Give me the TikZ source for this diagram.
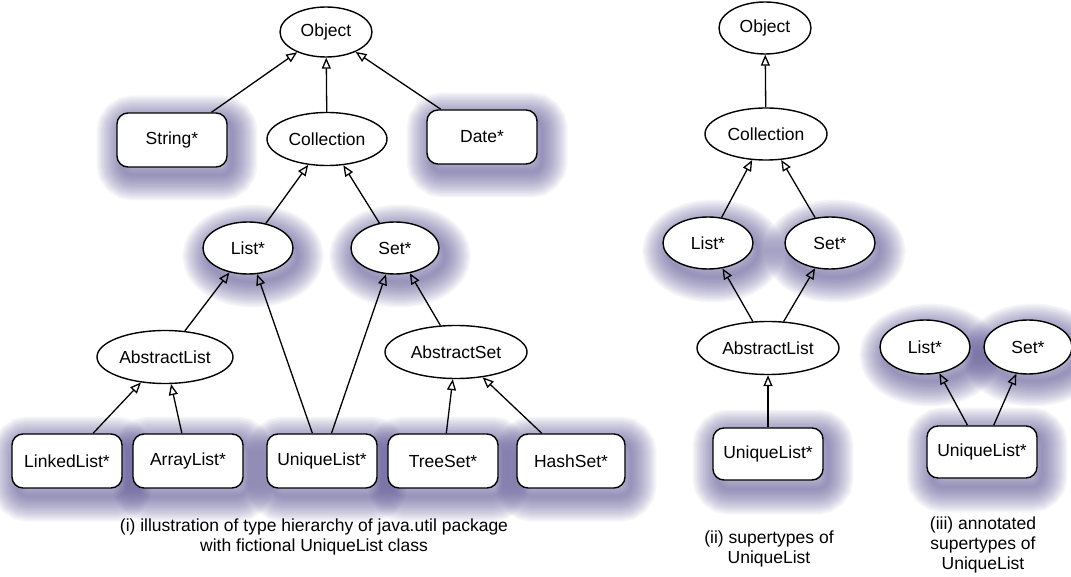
\documentclass[tikz,border=0pt]{standalone}
\usepackage{fontspec}
\setmainfont{Liberation Sans}
\usetikzlibrary{arrows.meta,shapes.geometric}
\definecolor{glowc}{RGB}{82,74,140}
\begin{document}
\begin{tikzpicture}[x=1pt,y=-1pt,
  font=\fontsize{17.5}{20}\selectfont,
  base/.style={draw=black, line width=1.4pt, fill=white, inner sep=0pt},
  box/.style={base, rectangle, rounded corners=11pt, minimum width=110pt, minimum height=54pt},
  ell/.style={base, ellipse},
  sell/.style={ell, minimum width=90pt, minimum height=52pt},
  ring/.style={preaction={draw=glowc, draw opacity=0.05, line width=#1}},
  halo/.style={fill=none, draw=glowc, draw opacity=0.05, line width=3pt,
    ring=51pt, ring=48pt, ring=45pt, ring=42pt, ring=39pt, ring=36pt,
    ring=33pt, ring=30pt, ring=27pt, ring=24pt, ring=21pt, ring=18pt,
    ring=15pt, ring=12pt, ring=9pt, ring=6pt},
  inh/.style={line width=1.3pt, -{Triangle[open, length=11pt, width=9pt]}},
  caption/.style={align=center, inner sep=0pt}
]
\useasboundingbox (0,0) rectangle (1071,577);

% positions
\coordinate (pObj)  at (326,32);
\coordinate (pStr)  at (172,140);
\coordinate (pColl) at (327,139);
\coordinate (pDate) at (482,137);
\coordinate (pList) at (248,248);
\coordinate (pSet)  at (395,248);
\coordinate (pAL)   at (165,357);
\coordinate (pAS)   at (456,352);
\coordinate (pLL)   at (67,461);
\coordinate (pArL)  at (188,461);
\coordinate (pUL)   at (322,461);
\coordinate (pTS)   at (443,461);
\coordinate (pHS)   at (571,461);

\coordinate (qObj)  at (765,28);
\coordinate (qColl) at (766,134);
\coordinate (qList) at (708,243);
\coordinate (qSet)  at (830,243);
\coordinate (qAL)   at (768,348);
\coordinate (qUL)   at (768,454);

\coordinate (rList) at (925,347);
\coordinate (rSet)  at (1028,347);
\coordinate (rUL)   at (982,452);

% soft halos behind the concrete / starred types
\foreach \c in {pStr,pDate,pLL,pArL,pUL,pTS,pHS,qUL,rUL}
  \node[box, halo, xshift=5pt, yshift=-8pt] at (\c) {};
\foreach \c in {pList,pSet,qList,qSet,rList,rSet}
  \node[sell, halo, xshift=5pt, yshift=-8pt] at (\c) {};

% (i) java.util hierarchy
\node[ell, minimum width=92pt, minimum height=50pt] (obj) at (pObj) {Object};
\node[box] (str) at (pStr) {String*};
\node[ell, minimum width=120pt, minimum height=53pt] (coll) at (pColl) {Collection};
\node[box] (date) at (pDate) {Date*};
\node[sell] (list) at (pList) {List*};
\node[sell, minimum width=88pt] (set) at (pSet) {Set*};
\node[ell, minimum width=136pt, minimum height=53pt] (al) at (pAL) {AbstractList};
\node[ell, minimum width=142pt, minimum height=53pt] (as) at (pAS) {AbstractSet};
\node[box] (ll) at (pLL) {LinkedList*};
\node[box] (arl) at (pArL) {ArrayList*};
\node[box] (ul) at (pUL) {UniqueList*};
\node[box] (ts) at (pTS) {TreeSet*};
\node[box, minimum width=108pt] (hs) at (pHS) {HashSet*};

\draw[inh] (str) -- (obj);
\draw[inh] (date) -- (obj);
\draw[inh] (coll) -- (obj);
\draw[inh] (list) -- (coll);
\draw[inh] (set) -- (coll);
\draw[inh] (al) -- (list);
\draw[inh] (ul) -- (list);
\draw[inh] (ul) -- (set);
\draw[inh] (as) -- (set);
\draw[inh] (ll) -- (al);
\draw[inh] (arl) -- (al);
\draw[inh] (ts) -- (as);
\draw[inh] (hs) -- (as);

% (ii) supertypes
\node[ell, minimum width=92pt, minimum height=52pt] (obj2) at (qObj) {Object};
\node[ell, minimum width=122pt, minimum height=52pt] (coll2) at (qColl) {Collection};
\node[sell] (list2) at (qList) {List*};
\node[sell] (set2) at (qSet) {Set*};
\node[ell, minimum width=142pt, minimum height=53pt] (al2) at (qAL) {AbstractList};
\node[box, minimum height=52pt] (ul2) at (qUL) {UniqueList*};

\draw[inh] (coll2) -- (obj2);
\draw[inh] (list2) -- (coll2);
\draw[inh] (set2) -- (coll2);
\draw[inh] (al2) -- (list2);
\draw[inh] (al2) -- (set2);
\draw[inh] (ul2) -- (al2);

% (iii) annotated supertypes
\node[sell, minimum height=54pt] (list3) at (rList) {List*};
\node[sell, minimum width=88pt, minimum height=54pt] (set3) at (rSet) {Set*};
\node[box, minimum height=52pt] (ul3) at (rUL) {UniqueList*};

\draw[inh] (ul3) -- (list3);
\draw[inh] (ul3) -- (set3);

% captions
\node[caption] (capA) at (314,537) {(i) illustration of type hierarchy of java.util package\\with fictional UniqueList class};
\node[caption] (capB) at (769,549) {(ii) supertypes of\\UniqueList};
\node[caption] (capC) at (983,545) {(iii) annotated\\supertypes of\\UniqueList};
\end{tikzpicture}
\end{document}
